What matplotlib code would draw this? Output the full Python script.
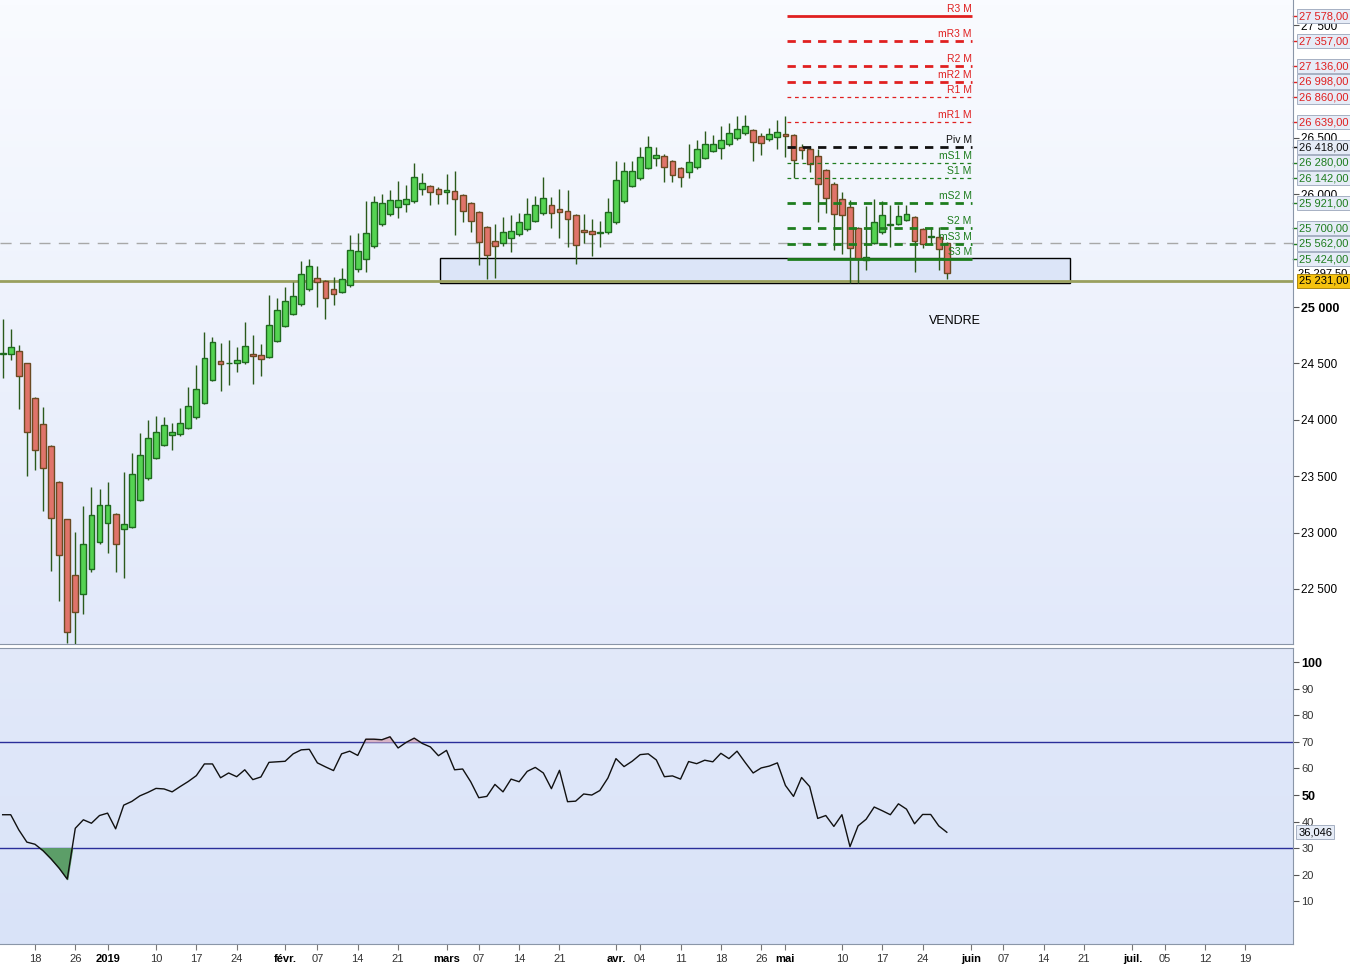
import numpy as np
import pandas as pd
import matplotlib
matplotlib.use('Agg')
import matplotlib.pyplot as plt
from matplotlib.patches import Rectangle
from matplotlib.colors import LinearSegmentedColormap
from matplotlib.transforms import blended_transform_factory

plt.rcParams['font.family'] = ['Liberation Sans', 'DejaVu Sans']

# daily candles from 12 Dec 2018 to 29 May 2019
opens = [24583, 24581, 24607, 24501, 24191, 23960, 23765, 23446, 23118, 22621,
         22453, 22675, 22914, 23083, 23162, 23029, 23047, 23286, 23481, 23659,
         23774, 23863, 23871, 23925, 24022, 24146, 24350, 24519, 24500, 24501,
         24510, 24581, 24572, 24554, 24696, 24829, 24941, 25024, 25157, 25254,
         25228, 25157, 25130, 25192, 25340, 25423, 25538, 25733, 25822, 25884,
         25910, 25937, 26043, 26070, 26043, 26017, 26026, 25990, 25919, 25840,
         25707, 25582, 25565, 25609, 25644, 25689, 25760, 25831, 25902, 25866,
         25848, 25813, 25680, 25671, 25653, 25662, 25751, 25937, 26070, 26141,
         26230, 26318, 26336, 26292, 26230, 26195, 26238, 26318, 26380, 26407,
         26443, 26496, 26540, 26566, 26513, 26487, 26504, 26531, 26522, 26416,
         26398, 26336, 26212, 26088, 25955, 25884, 25698, 25420, 25570, 25662,
         25730, 25733, 25769, 25795, 25689, 25620, 25623, 25565]
highs = [24894, 24805, 24663, 24505, 24200, 24111, 23775, 23455, 23125, 23003,
         23233, 23402, 23384, 23446, 23175, 23535, 23703, 23880, 23996, 24031,
         24022, 23969, 24102, 24288, 24483, 24776, 24731, 24678, 24705, 24643,
         24864, 24752, 24669, 25106, 25077, 25177, 25222, 25408, 25426, 25361,
         25240, 25263, 25343, 25638, 25653, 25940, 25981, 25999, 26035, 26114,
         26079, 26274, 26185, 26080, 26061, 26176, 26203, 26000, 25930, 25850,
         25720, 25733, 25795, 25813, 25831, 25964, 25981, 26150, 25973, 26043,
         26035, 25825, 25822, 25777, 25760, 25964, 26292, 26283, 26292, 26416,
         26513, 26416, 26354, 26300, 26240, 26443, 26478, 26558, 26522, 26602,
         26629, 26691, 26699, 26575, 26540, 26584, 26655, 26691, 26530, 26443,
         26425, 26398, 26225, 26110, 26017, 25949, 25710, 25900, 25957, 25940,
         25904, 25904, 25904, 25810, 25700, 25712, 25712, 25580]
lows = [24371, 24530, 24093, 23504, 23555, 23194, 22662, 22396, 22019, 22012,
        22276, 22650, 22900, 22817, 22651, 22595, 23040, 23280, 23470, 23650,
        23765, 23730, 23854, 23915, 24010, 24140, 24340, 24253, 24306, 24421,
        24492, 24315, 24386, 24545, 24690, 24820, 24930, 25010, 25140, 24997,
        24891, 25015, 25120, 25180, 25308, 25308, 25520, 25720, 25810, 25786,
        25840, 25925, 25990, 25902, 25910, 25910, 25636, 25751, 25662, 25370,
        25246, 25254, 25543, 25490, 25630, 25675, 25750, 25820, 25698, 25609,
        25529, 25379, 25565, 25449, 25529, 25650, 25740, 25925, 26060, 26130,
        26220, 26247, 26106, 26106, 26061, 26141, 26228, 26308, 26370, 26309,
        26430, 26485, 26522, 26292, 26345, 26475, 26398, 26327, 26141, 26309,
        26197, 25751, 25830, 25503, 25467, 25215, 25215, 25330, 25560, 25650,
        25535, 25725, 25760, 25313, 25520, 25550, 25328, 25246]
closes = [24590, 24643, 24386, 23889, 23730, 23570, 23127, 22799, 22116, 22294,
          22896, 23153, 23242, 23242, 22896, 23074, 23517, 23685, 23836, 23889,
          23951, 23889, 23969, 24120, 24270, 24545, 24687, 24492, 24505, 24527,
          24652, 24563, 24537, 24838, 24971, 25051, 25095, 25290, 25361, 25219,
          25077, 25113, 25246, 25505, 25496, 25653, 25928, 25919, 25946, 25946,
          25955, 26150, 26097, 26017, 25999, 26035, 25955, 25848, 25760, 25574,
          25458, 25538, 25662, 25671, 25751, 25822, 25902, 25964, 25831, 25840,
          25777, 25547, 25662, 25644, 25662, 25840, 26123, 26203, 26203, 26327,
          26416, 26345, 26238, 26168, 26150, 26283, 26398, 26443, 26443, 26478,
          26540, 26575, 26602, 26460, 26451, 26531, 26549, 26513, 26300, 26389,
          26265, 26088, 25964, 25822, 25813, 25520, 25432, 25440, 25756, 25813,
          25736, 25804, 25822, 25583, 25556, 25628, 25511, 25298]
rsi = [42.6, 42.6, 36.9, 32.3, 31.5, 29.1, 26.0, 22.5, 18.4, 37.5,
       40.7, 39.4, 42.3, 43.2, 37.3, 46.2, 47.6, 49.7, 51.0, 52.5,
       52.3, 51.2, 53.2, 55.1, 57.3, 61.7, 61.7, 56.5, 58.3, 56.9,
       59.5, 55.8, 56.8, 62.3, 62.5, 62.7, 65.5, 67.0, 67.2, 62.1,
       60.6, 59.2, 65.5, 66.5, 64.9, 71.0, 71.0, 70.8, 71.9, 67.7,
       69.8, 71.4, 69.4, 68.1, 64.8, 66.8, 59.5, 59.8, 55.0, 49.0,
       49.5, 54.0, 51.2, 56.0, 55.0, 58.9, 60.4, 58.3, 52.4, 59.3,
       47.5, 47.7, 50.4, 50.0, 51.7, 56.4, 63.7, 60.7, 62.7, 65.2,
       65.5, 63.2, 56.9, 57.2, 56.0, 62.6, 61.8, 63.1, 62.5, 65.7,
       63.7, 66.5, 62.3, 58.3, 60.2, 60.9, 62.1, 53.6, 49.5, 56.6,
       53.2, 41.2, 42.3, 38.2, 42.6, 30.6, 38.4, 40.9, 45.5, 44.1,
       42.6, 46.7, 44.7, 39.2, 42.7, 42.7, 38.4, 36.0]
rsi_last = 36.046

pivot_names = ['R3 M', 'mR3 M', 'R2 M', 'mR2 M', 'R1 M', 'mR1 M', 'Piv M',
               'mS1 M', 'S1 M', 'mS2 M', 'S2 M', 'mS3 M', 'S3 M']
pivot_values = [27578, 27357, 27136, 26998, 26860, 26639, 26418,
                26280, 26142, 25921, 25700, 25562, 25424]

support_level = 25231
gray_level = 25565
last_price = 25297.5
zone_low, zone_high = 25213, 25434

price_ticks = [22500, 23000, 23500, 24000, 24500, 25000, 26000, 26500, 27500]

tick_dates = ['2018-12-18', '2018-12-26', '2019-01-02', '2019-01-10', '2019-01-17',
              '2019-01-24', '2019-02-01', '2019-02-07', '2019-02-14', '2019-02-21',
              '2019-03-01', '2019-03-07', '2019-03-14', '2019-03-21', '2019-04-01',
              '2019-04-04', '2019-04-11', '2019-04-18', '2019-04-26', '2019-05-01',
              '2019-05-10', '2019-05-17', '2019-05-24', '2019-06-03', '2019-06-07',
              '2019-06-14', '2019-06-21', '2019-07-01', '2019-07-05', '2019-07-12',
              '2019-07-19']
tick_labels = ['18', '26', '2019', '10', '17', '24', 'févr.', '07', '14', '21',
               'mars', '07', '14', '21', 'avr.', '04', '11', '18', '26', 'mai',
               '10', '17', '24', 'juin', '07', '14', '21', 'juil.', '05', '12', '19']
bold_labels = ['2019', 'févr.', 'mars', 'avr.', 'mai', 'juin', 'juil.']

# trading calendar of the feed
days = pd.bdate_range('2018-12-12', '2019-07-31')
days = days[~days.isin(pd.to_datetime(['2018-12-25', '2019-01-01', '2019-04-19']))]
pos = {d.strftime('%Y-%m-%d'): i for i, d in enumerate(days)}
tick_pos = [pos[d] for d in tick_dates]

o = np.array(opens, float)
h = np.array(highs, float)
l = np.array(lows, float)
c = np.array(closes, float)
x = np.arange(len(o))


def fr(v, dec=0):
    s = f"{v:,.{dec}f}"
    return s.replace(',', ' ').replace('.', ',')


fig = plt.figure(figsize=(13.5, 9.65), dpi=100)
ax1 = fig.add_axes([0, 0.3326, 0.9578, 0.6674])
ax2 = fig.add_axes([0, 0.0218, 0.9578, 0.3067])

bg1 = LinearSegmentedColormap.from_list('bg1', ['#f9fbff', '#e2e9fa'])
bg2 = LinearSegmentedColormap.from_list('bg2', ['#e2e9fa', '#d9e3f8'])
grad = np.linspace(0, 1, 100).reshape(-1, 1)
ax1.imshow(grad, cmap=bg1, extent=[0, 1, 0, 1], transform=ax1.transAxes,
           aspect='auto', zorder=0)
ax2.imshow(grad, cmap=bg2, extent=[0, 1, 0, 1], transform=ax2.transAxes,
           aspect='auto', zorder=0)

# price panel
ax1.add_patch(Rectangle((54.2, zone_low), 78.1, zone_high - zone_low,
                        facecolor='#dce5f8', edgecolor='black', lw=1, zorder=1))
ax1.axhline(support_level, color='#99a05e', lw=2, zorder=2)
ax1.axhline(gray_level, color='#a8a8a8', lw=1, dashes=(8, 6), zorder=1.5)

up = c >= o
body_bot = np.minimum(o, c)
body_h = np.maximum(np.abs(c - o), 7)
ax1.vlines(x, l, h, color='#2b5a1c', lw=1, zorder=3)
ax1.bar(x, body_h, bottom=body_bot, width=0.72,
        color=np.where(up, '#55d352', '#e0746a'),
        edgecolor=np.where(up, '#1f6a1f', '#6b4a22'), lw=1, zorder=4)

red, black, green = '#e02020', '#111111', '#1e7d1e'
x0, x1 = 97.2, 120.1
for name, v in zip(pivot_names, pivot_values):
    col = red if 'R' in name else (black if name == 'Piv M' else green)
    if name in ('R3 M', 'S3 M'):
        ax1.hlines(v, x0, x1, color=col, lw=2, zorder=5)
    elif name in ('R1 M', 'mR1 M', 'mS1 M', 'S1 M'):
        ax1.hlines(v, x0, x1, color=col, lw=0.9, linestyles=(0, (3, 3)), zorder=5)
    else:
        ax1.hlines(v, x0, x1, color=col, lw=2, linestyles=(0, (3, 2.5)), zorder=5)
    ax1.text(x1, v + 17, name, ha='right', va='bottom', fontsize=7.5,
             color=col, zorder=6)

ax1.text(118, 24876, 'VENDRE', ha='center', va='center', fontsize=9, color='black')

ax1.set_xlim(-0.33, 159.9)
ax1.set_ylim(22012, 27722)
ax1.yaxis.tick_right()
ax1.set_yticks(price_ticks)
ax1.set_yticklabels([fr(v) for v in price_ticks], fontsize=8.5)
for t, v in zip(ax1.get_yticklabels(), price_ticks):
    if v == 25000:
        t.set_fontweight('bold')
        t.set_fontsize(9)
ax1.tick_params(axis='y', length=4, color='#555555', pad=2)
ax1.set_xticks([])
for s in ax1.spines.values():
    s.set_color('#8a96a8')
ax1.spines['left'].set_visible(False)
ax1.spines['top'].set_visible(False)

tr = blended_transform_factory(ax1.transAxes, ax1.transData)
ax1.text(1.004, last_price, fr(last_price, 2), transform=tr, ha='left', va='center',
         fontsize=8, color='black', clip_on=False, zorder=7)
for name, v in zip(pivot_names, pivot_values):
    col = red if 'R' in name else (black if name == 'Piv M' else green)
    ax1.text(1.005, v, fr(v, 2), transform=tr, ha='left', va='center', fontsize=8,
             color=col, clip_on=False, zorder=8,
             bbox=dict(boxstyle='square,pad=0.2', fc='#e6ecf7', ec='#9aa6ba', lw=0.6))
    ax1.plot([1.0, 1.005], [v, v], transform=tr, color=col, lw=1, clip_on=False)
ax1.text(1.005, support_level, fr(support_level, 2), transform=tr, ha='left',
         va='center', fontsize=8, color='black', clip_on=False, zorder=9,
         bbox=dict(boxstyle='square,pad=0.2', fc='#f5c20f', ec='#a07a00', lw=0.6))

# RSI panel
r = np.array(rsi)
ax2.axhline(70, color='#2a2e9a', lw=1, zorder=2)
ax2.axhline(30, color='#2a2e9a', lw=1, zorder=2)
ax2.fill_between(x, r, 30, where=r < 30, interpolate=True, color='#5c9e68', zorder=2)
ax2.fill_between(x, r, 70, where=r > 70, interpolate=True, color='#d8b4c6', zorder=2)
ax2.plot(x, r, color='#111111', lw=1, zorder=3)

ax2.set_xlim(-0.33, 159.9)
ax2.set_ylim(-6, 105.3)
ax2.yaxis.tick_right()
rt = np.arange(10, 101, 10)
ax2.set_yticks(rt)
ax2.set_yticklabels([str(v) for v in rt], fontsize=8, color='#333333')
for t, v in zip(ax2.get_yticklabels(), rt):
    if v in (50, 100):
        t.set_fontweight('bold')
        t.set_fontsize(9)
        t.set_color('black')
ax2.tick_params(axis='y', length=4, color='#555555', pad=2)
tr2 = blended_transform_factory(ax2.transAxes, ax2.transData)
ax2.text(1.004, rsi_last, fr(rsi_last, 3), transform=tr2, ha='left', va='center',
         fontsize=8, color='black', clip_on=False, zorder=8,
         bbox=dict(boxstyle='square,pad=0.2', fc='#e6ecf7', ec='#9aa6ba', lw=0.6))

ax2.set_xticks(tick_pos)
ax2.set_xticklabels(tick_labels, fontsize=8, color='#333333')
for t, lab in zip(ax2.get_xticklabels(), tick_labels):
    if lab in bold_labels:
        t.set_fontweight('bold')
        t.set_color('black')
ax2.tick_params(axis='x', length=4, color='#777777', pad=3)
for s in ax2.spines.values():
    s.set_color('#8a96a8')
ax2.spines['left'].set_visible(False)

fig.savefig('out.png', dpi=100)
